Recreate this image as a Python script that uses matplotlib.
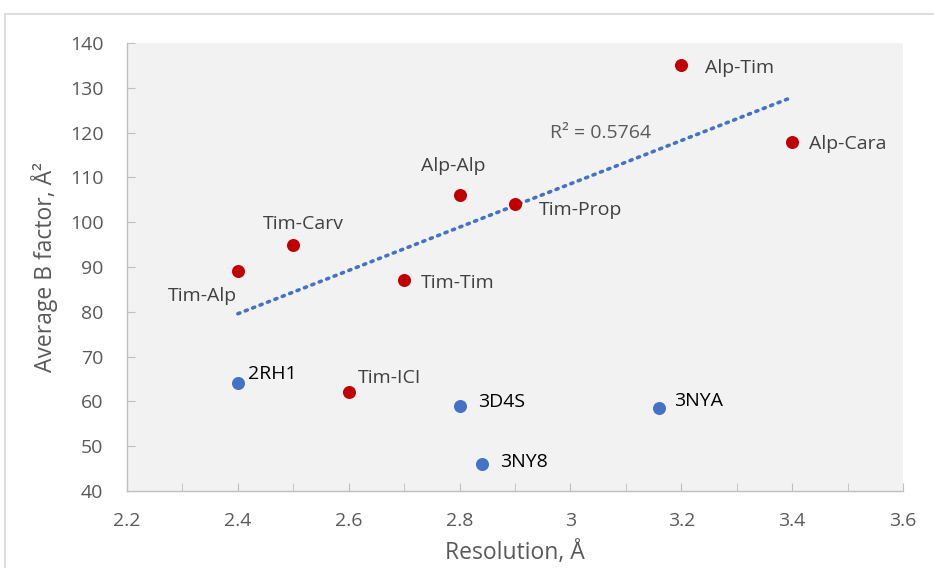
import numpy as np
import matplotlib
matplotlib.use("Agg")
import matplotlib.pyplot as plt
from matplotlib.patches import Rectangle
from matplotlib.ticker import MultipleLocator, FuncFormatter

plt.rcParams['font.family'] = ['Open Sans', 'DejaVu Sans']

red_labels = ["Tim-Alp", "Tim-Carv", "Tim-ICI", "Tim-Tim", "Alp-Alp", "Tim-Prop", "Alp-Tim", "Alp-Cara"]
red_x = [2.4, 2.5, 2.6, 2.7, 2.8, 2.9, 3.2, 3.4]
red_y = [89, 95, 62, 87, 106, 104, 135, 118]

blue_labels = ["2RH1", "3D4S", "3NY8", "3NYA"]
blue_x = [2.4, 2.8, 2.84, 3.16]
blue_y = [64, 59, 46, 58.5]

r2_text = "R² = 0.5764"

W, H = 934, 568
fig = plt.figure(figsize=(W/100, H/100), dpi=100)
fig.patch.set_facecolor('white')
fig.add_artist(Rectangle((5/W, -0.1), 1.2, 1 - 14/H + 0.1, transform=fig.transFigure,
                         fill=False, edgecolor='#D9D9D9', linewidth=1.2))

ax = fig.add_axes([127/W, 1 - 491/H, 776/W, 448/H])
ax.set_facecolor('#F2F2F2')
ax.set_xlim(2.2, 3.6)
ax.set_ylim(40, 140)

for s in ['top', 'right']:
    ax.spines[s].set_visible(False)
for s in ['left', 'bottom']:
    ax.spines[s].set_color('#BFBFBF')
    ax.spines[s].set_linewidth(1.0)

ax.xaxis.set_major_locator(MultipleLocator(0.2))
ax.xaxis.set_minor_locator(MultipleLocator(0.1))
ax.yaxis.set_major_locator(MultipleLocator(10))
ax.xaxis.set_major_formatter(FuncFormatter(lambda v, p: ('%.1f' % v).rstrip('0').rstrip('.')))
ax.tick_params(axis='x', which='both', direction='in', length=6, color='#BFBFBF',
               labelsize=14, labelcolor='#595959', pad=15)
ax.tick_params(axis='y', which='both', direction='in', length=6, color='#BFBFBF',
               labelsize=14, labelcolor='#595959', pad=17)

# trendline fitted on red series
k, b = np.polyfit(red_x, red_y, 1)
tx = np.array([min(red_x), max(red_x)])
ax.plot(tx, k*tx + b, linestyle=(0, (0.6, 1.6)), color='#4472C4', linewidth=2.6,
        dash_capstyle='round', zorder=2)

ax.scatter(red_x, red_y, s=88, color='#C00000', zorder=3, linewidths=0)
ax.scatter(blue_x, blue_y, s=88, color='#4472C4', zorder=3, linewidths=0)

# offsets in pixels (dx, dy up-positive, to baseline)
red_offsets = {
    "Tim-Alp": (-35, -30, 'center'),
    "Tim-Carv": (10, 16, 'center'),
    "Tim-ICI": (9, 9, 'left'),
    "Tim-Tim": (17, -8, 'left'),
    "Alp-Alp": (-6, 24, 'center'),
    "Tim-Prop": (24, -11, 'left'),
    "Alp-Tim": (24, -8, 'left'),
    "Alp-Cara": (17, -7, 'left'),
}
for lab, x, y in zip(red_labels, red_x, red_y):
    dx, dy, ha = red_offsets[lab]
    ax.annotate(lab, (x, y), xytext=(dx, dy), textcoords='offset pixels',
                ha=ha, va='baseline', fontsize=14, color='#404040', zorder=4)

blue_offsets = {
    "2RH1": (10, 4),
    "3D4S": (18, -1),
    "3NY8": (18, -3),
    "3NYA": (15, 2),
}
for lab, x, y in zip(blue_labels, blue_x, blue_y):
    dx, dy = blue_offsets[lab]
    ax.annotate(lab, (x, y), xytext=(dx, dy), textcoords='offset pixels',
                ha='left', va='baseline', fontsize=14, color='#000000', zorder=4)

ax.text(550/W, 1 - 138/H, r2_text, transform=fig.transFigure, ha='left', va='baseline',
        fontsize=14, color='#595959')

ax.set_xlabel("Resolution, Å", fontsize=16.5, color='#595959')
ax.set_ylabel("Average B factor, Å²", fontsize=16.5, color='#595959')
ax.xaxis.label.set_va('center')
ax.yaxis.label.set_va('center')
ax.xaxis.set_label_coords(0.5, (491 - 553) / 448)
ax.yaxis.set_label_coords((45 - 127) / 776, 0.5)

fig.savefig("out.png", dpi=100)
